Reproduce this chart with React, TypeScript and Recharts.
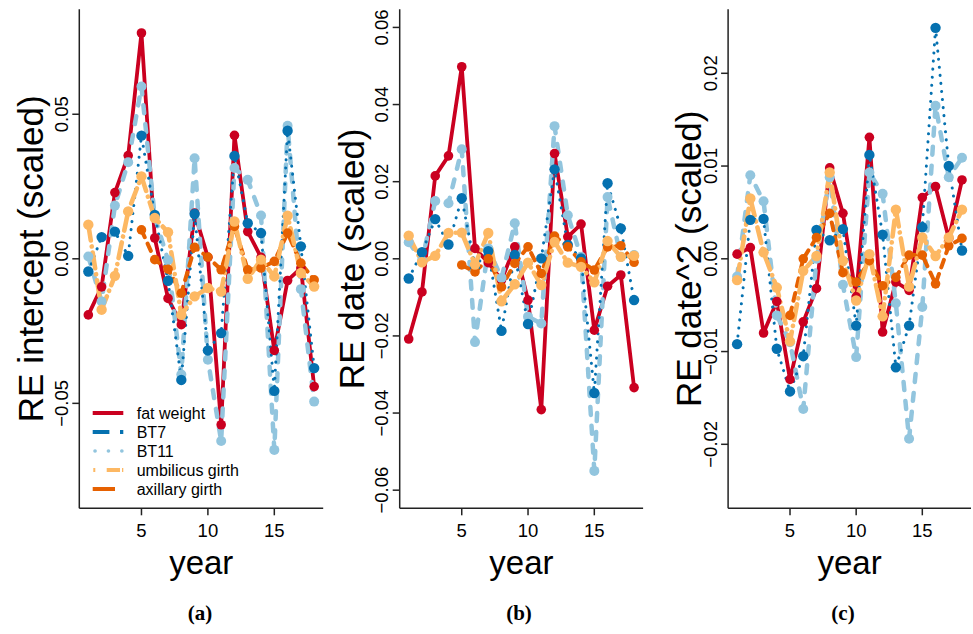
import React from 'react';
import { LineChart, Line, XAxis, YAxis, Legend } from 'recharts';

const years = [1, 2, 3, 4, 5, 6, 7, 8, 9, 10, 11, 12, 13, 14, 15, 16, 17, 18];
const yearTicks = [5, 10, 15];

// (a) RE intercept
const interceptFat = [-0.0194, -0.0097, 0.0229, 0.0357, 0.0781, 0.0072, -0.0137, -0.0228, 0.0158, 0.0005, -0.0574, 0.0427, 0.0094, 0.0005, -0.0317, -0.0075, -0.0032, -0.0442];
const interceptBT7 = [-0.0044, 0.0075, 0.0094, 0.001, 0.0426, 0.0152, -0.0076, -0.0419, 0.0155, -0.0317, -0.0257, 0.0356, 0.0123, 0.0089, -0.0457, 0.0443, 0.0043, -0.0378];
const interceptBT11 = [0.0008, -0.0148, 0.0184, 0.0334, 0.0596, 0.0145, -0.0005, -0.04, 0.0348, -0.0349, -0.063, 0.0314, 0.0273, 0.015, -0.0661, 0.046, -0.0105, -0.0494];
const interceptUmb = [0.0118, -0.0176, -0.0059, 0.0164, 0.0285, 0.0141, 0.0092, -0.0194, -0.013, -0.0101, -0.0113, 0.0129, -0.0069, -0.0003, -0.0061, 0.0149, -0.0049, -0.0096];
const interceptAx = [null, null, null, null, 0.01, -0.0003, -0.0036, -0.0119, 0.004, 0.0006, -0.0038, 0.0112, -0.0038, -0.0032, -0.0009, 0.0089, -0.0015, -0.0073];
const interceptTicks = [-0.05, 0, 0.05];
const interceptTickLabels = ['−0.05', '0.00', '0.05'];

// (b) RE date
const dateFat = [-0.0208, -0.0086, 0.0215, 0.0267, 0.0498, 0.0027, -0.001, -0.0055, 0.0031, -0.0107, -0.0391, 0.0273, 0.0057, 0.009, -0.0185, -0.0071, -0.0042, -0.0334];
const dateBT7 = [-0.0051, 0.0017, 0.0103, 0.0037, 0.0157, -0.002, 0.002, -0.0187, 0.001, -0.0169, 0.0001, 0.0232, 0.0036, 0.0001, -0.0348, 0.0196, 0.0079, -0.0107];
const dateBT11 = [0.0043, -0.0005, 0.015, 0.0144, 0.0284, -0.0216, 0.0027, -0.005, 0.0092, -0.015, -0.0168, 0.0344, 0.0113, 0.0005, -0.055, 0.016, 0.0005, 0.001];
const dateUmb = [0.006, -0.0009, 0.0008, 0.0067, 0.0068, -0.0015, 0.0067, -0.011, -0.0066, -0.001, -0.0068, 0.0044, -0.001, -0.0021, -0.0061, 0.0046, 0.0005, 0.0008];
const dateAx = [null, null, null, null, -0.0016, -0.0034, 0.0, -0.0073, -0.0012, 0.0031, -0.0038, 0.0059, 0.0031, -0.0008, -0.0029, 0.0031, 0.0034, -0.0009];
const dateTicks = [-0.06, -0.04, -0.02, 0, 0.02, 0.04, 0.06];
const dateTickLabels = ['−0.06', '−0.04', '−0.02', '0.00', '0.02', '0.04', '0.06'];

// (c) RE date^2
const date2Fat = [0.0005, 0.0012, -0.008, -0.0046, -0.013, -0.0068, -0.0032, 0.0098, 0.0049, -0.0041, 0.0131, -0.0079, -0.0025, -0.0034, 0.0066, 0.0078, 0.0022, 0.0085];
const date2BT7 = [-0.0092, 0.0042, 0.0043, -0.0097, -0.0143, -0.0105, 0.0031, 0.002, 0.0032, -0.0072, 0.0112, 0.0026, -0.0117, -0.0072, 0.0034, 0.0249, 0.01, 0.0009];
const date2BT11 = [-0.0019, 0.009, 0.0062, -0.0061, -0.009, -0.0162, 0.0, 0.0088, -0.0028, -0.0106, 0.0093, 0.007, -0.0048, -0.0194, -0.0052, 0.0165, 0.0088, 0.0109];
const date2Umb = [-0.0023, 0.0065, 0.0007, -0.0031, -0.0089, -0.0013, 0.0003, 0.0093, -0.0002, -0.0045, 0.0005, -0.0062, 0.0053, -0.003, 0.0023, 0.0003, 0.0023, 0.0053];
const date2Ax = [null, null, null, null, -0.0061, 0.0, 0.0023, 0.0049, -0.0015, -0.0025, -0.0002, -0.0029, -0.002, 0.0004, 0.0004, -0.0027, 0.0014, 0.0022];
const date2Ticks = [-0.02, -0.01, 0, 0.01, 0.02];
const date2TickLabels = ['−0.02', '−0.01', '0.00', '0.01', '0.02'];

const SANS = '"Liberation Sans", Arial, Helvetica, sans-serif';
const SERIF = '"Liberation Serif", "Times New Roman", serif';
const AXIS = '#222';
const PLOT_TOP = 9.3;
const PLOT_BOTTOM = 508.3;
const H = 634;

// drawing order: first is at the bottom
const seriesStyle = [
  { key: 'fat', color: '#CA0020', width: 3.8, dash: undefined, r: 4.8 },
  { key: 'bt11', color: '#92C5DE', width: 4.5, dash: '8 11', r: 5 },
  { key: 'bt7', color: '#0571B0', width: 3, dash: '0.1 8', r: 5.2 },
  { key: 'ax', color: '#E66101', width: 4, dash: '8 7', r: 4.8 },
  { key: 'umb', color: '#FDB863', width: 4.6, dash: '16 6 0.1 6', r: 5.2 },
];

const legendItems = [
  { name: 'fat weight', color: '#CA0020', dash: undefined, cap: 'butt', x1: 92.7, x2: 123.3, w: 4 },
  { name: 'BT7', color: '#0571B0', dash: '16.7 10.6 3.3', cap: 'butt', x1: 92.7, x2: 123.3, w: 4 },
  { name: 'BT11', color: '#92C5DE', dash: '0.1 13.3', cap: 'round', x1: 95, x2: 123.3, w: 3.6 },
  { name: 'umbilicus girth', color: '#FDB863', dash: '2 11.4 13.3', cap: 'butt', x1: 93.3, x2: 123.3, w: 4 },
  { name: 'axillary girth', color: '#E66101', dash: '22.3 10', cap: 'butt', x1: 92.7, x2: 123.3, w: 4 },
];

const panels = [
  {
    tag: '(a)', yLabel: 'RE intercept (scaled)', left: 0, width: 330, plotLeft: 79.3, plotRight: 323.2,
    domain: [-0.0863, 0.0863], ticks: interceptTicks, tickLabels: interceptTickLabels,
    fat: interceptFat, bt7: interceptBT7, bt11: interceptBT11, umb: interceptUmb, ax: interceptAx,
    labelX: 43, tagX: 200, legend: true,
  },
  {
    tag: '(b)', yLabel: 'RE date (scaled)', left: 330, width: 320, plotLeft: 399.7, plotRight: 643.1,
    domain: [-0.0647, 0.0647], ticks: dateTicks, tickLabels: dateTickLabels,
    fat: dateFat, bt7: dateBT7, bt11: dateBT11, umb: dateUmb, ax: dateAx,
    labelX: 364, tagX: 519, legend: false,
  },
  {
    tag: '(c)', yLabel: 'RE date^2 (scaled)', left: 655, width: 318, plotLeft: 728.1, plotRight: 971,
    domain: [-0.0269, 0.0269], ticks: date2Ticks, tickLabels: date2TickLabels,
    fat: date2Fat, bt7: date2BT7, bt11: date2BT11, umb: date2Umb, ax: date2Ax,
    labelX: 701, tagX: 843, legend: false,
  },
];

const makeDot = (color: string, r: number) => (props: any) => {
  const { cx, cy, index } = props;
  if (cx == null || cy == null || Number.isNaN(cx) || Number.isNaN(cy) || props.value == null) {
    return <g key={`d${index}`} />;
  }
  return <circle key={`d${index}`} cx={cx} cy={cy} r={r} fill={color} />;
};

const LegendBox = () => (
  <svg width={200} height={100} style={{ display: 'block' }}>
    {legendItems.map((it, i) => {
      const y = 10 + i * 19;
      return (
        <g key={it.name}>
          <line x1={it.x1 - 86} x2={it.x2 - 86} y1={y} y2={y} stroke={it.color} strokeWidth={it.w}
            strokeDasharray={it.dash} strokeLinecap={it.cap as any} />
          <text x={50.7} y={y + 5.8} fontSize={16} fontFamily={SANS} fill="#000">{it.name}</text>
        </g>
      );
    })}
  </svg>
);

function Panel({ p }: { p: any }) {
  const data = years.map((year, i) => ({
    year,
    fat: p.fat[i],
    bt7: p.bt7[i],
    bt11: p.bt11[i],
    umb: p.umb[i],
    ax: p.ax[i],
  }));
  const localLeft = p.plotLeft - p.left;
  const localRight = p.plotRight - p.left;

  const xTick = (t: any) => (
    <text x={t.x} y={537} textAnchor="middle" fontSize={18.5} fontFamily={SANS} fill="#000">
      {t.payload.value}
    </text>
  );
  const yTick = (t: any) => {
    const bx = localLeft - 11.5;
    const idx = p.ticks.indexOf(t.payload.value);
    return (
      <text x={bx} y={t.y} transform={`rotate(-90 ${bx} ${t.y})`} textAnchor="middle"
        fontSize={18.5} fontFamily={SANS} fill="#000">
        {p.tickLabels[idx]}
      </text>
    );
  };

  return (
    <div style={{ position: 'absolute', left: p.left, top: 0 }}>
      <LineChart
        width={p.width}
        height={H}
        data={data}
        margin={{ top: PLOT_TOP, right: p.width - localRight, bottom: H - PLOT_BOTTOM - 30, left: localLeft - 60 }}
      >
        <XAxis dataKey="year" type="number" domain={[0.32, 18.68]} ticks={yearTicks} allowDataOverflow
          interval={0} height={30} tickSize={7}
          axisLine={{ stroke: AXIS, strokeWidth: 1.5 }} tickLine={{ stroke: AXIS, strokeWidth: 1.5 }}
          tick={xTick} />
        <YAxis type="number" domain={p.domain} ticks={p.ticks} allowDataOverflow interval={0}
          width={60} tickSize={7}
          axisLine={{ stroke: AXIS, strokeWidth: 1.5 }} tickLine={{ stroke: AXIS, strokeWidth: 1.5 }}
          tick={yTick} />
        {seriesStyle.map((s) => (
          <Line key={s.key} type="linear" dataKey={s.key} stroke={s.color} strokeWidth={s.width}
            strokeDasharray={s.dash} strokeLinecap="round" strokeLinejoin="round"
            dot={makeDot(s.color, s.r)} activeDot={false} connectNulls={false}
            isAnimationActive={false} />
        ))}
        {p.legend && (
          <Legend layout="horizontal" verticalAlign="middle" align="center"
            wrapperStyle={{ left: 86, top: 403, width: 200, height: 100 }}
            content={() => <LegendBox />} />
        )}
      </LineChart>
    </div>
  );
}

export default function App() {
  return (
    <div style={{ position: 'absolute', left: 0, top: 0, width: 973, height: H, background: '#fff' }}>
      {panels.map((p) => (
        <Panel key={p.tag} p={p} />
      ))}
      <svg width={973} height={H} style={{ position: 'absolute', left: 0, top: 0, pointerEvents: 'none' }}>
        {panels.map((p) => {
          const cx = (p.plotLeft + p.plotRight) / 2;
          const cy = (PLOT_TOP + PLOT_BOTTOM) / 2;
          return (
            <g key={p.tag}>
              <text x={p.labelX} y={cy} transform={`rotate(-90 ${p.labelX} ${cy})`} textAnchor="middle"
                fontSize={35} fontFamily={SANS} fill="#000">{p.yLabel}</text>
              <text x={cx} y={574} textAnchor="middle" fontSize={33} fontFamily={SANS} fill="#000">year</text>
              <text x={p.tagX} y={620} textAnchor="middle" fontSize={21} fontWeight="bold" fontFamily={SERIF} fill="#000">{p.tag}</text>
            </g>
          );
        })}
      </svg>
    </div>
  );
}
